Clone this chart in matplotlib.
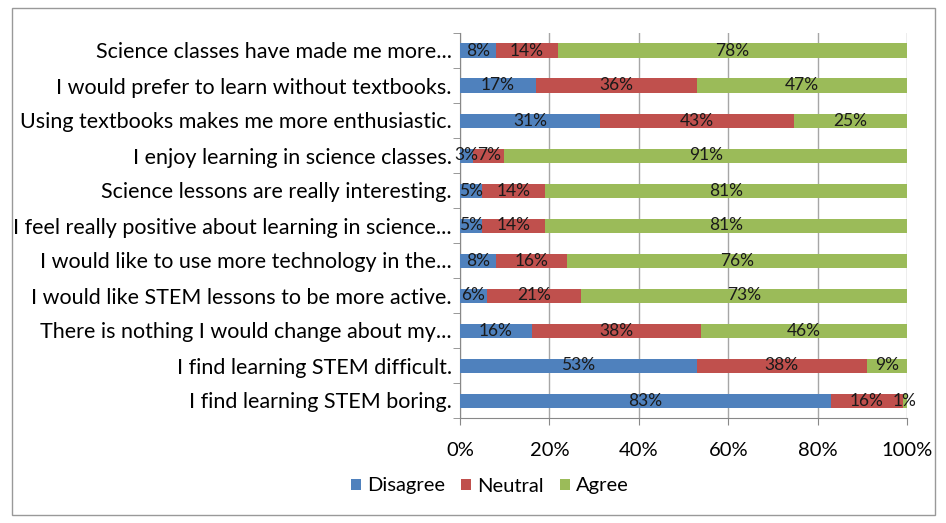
import matplotlib
matplotlib.use("Agg")
import matplotlib.pyplot as plt
from matplotlib.patches import Rectangle
import numpy as np

categories = [
    "Science classes have made me more...",
    "I would prefer to learn without textbooks.",
    "Using textbooks makes me more enthusiastic.",
    "I enjoy learning in science classes.",
    "Science lessons are really interesting.",
    "I feel really positive about learning in science...",
    "I would like to use more technology in the...",
    "I would like STEM lessons to be more active.",
    "There is nothing I would change about my...",
    "I find learning STEM difficult.",
    "I find learning STEM boring.",
]
disagree = [8, 17, 31, 3, 5, 5, 8, 6, 16, 53, 83]
neutral = [14, 36, 43, 7, 14, 14, 16, 21, 38, 38, 16]
agree = [78, 47, 25, 91, 81, 81, 76, 73, 46, 9, 1]
series_names = ["Disagree", "Neutral", "Agree"]
colors = ["#4F81BD", "#C0504D", "#9BBB59"]
xticks = [0, 0.2, 0.4, 0.6, 0.8, 1.0]
xticklabels = ["0%", "20%", "40%", "60%", "80%", "100%"]

plt.rcParams['font.family'] = ['Lato', 'DejaVu Sans']

fig = plt.figure(figsize=(9.46, 5.23), dpi=100)
ax = fig.add_axes([460/946, 1-418/523, 447/946, (418-33)/523])

data = np.array([disagree, neutral, agree], dtype=float)
fracs = data / data.sum(axis=0)
n = len(categories)
y = np.arange(n)[::-1]
left = np.zeros(n)
for i in range(3):
    ax.barh(y, fracs[i], left=left, height=0.4, color=colors[i], label=series_names[i], zorder=3)
    for j in range(n):
        cx = left[j] + fracs[i][j] / 2
        ax.text(cx, y[j], f"{int(data[i][j])}%", ha="center", va="center",
                fontsize=12.5, color="#1a1a1a", zorder=4)
    left += fracs[i]

ax.set_xlim(0, 1)
ax.set_ylim(-0.5, n - 0.5)
ax.set_xticks(xticks)
ax.set_xticklabels(xticklabels, fontsize=14.5)
ax.set_yticks(y)
ax.set_yticklabels(categories, fontsize=15.5)
ax.tick_params(axis='y', length=0, pad=6)
ax.tick_params(axis='x', length=5, color="#888888", pad=12, direction='out')
ax.set_yticks(np.arange(n + 1) - 0.5, minor=True)
ax.tick_params(axis='y', which='minor', length=5, color="#888888")
ax.grid(axis='x', color="#a6a6a6", linewidth=1, zorder=0)
for s in ["top", "right"]:
    ax.spines[s].set_visible(False)
for s in ["left", "bottom"]:
    ax.spines[s].set_color("#888888")

handles, labels = ax.get_legend_handles_labels()
fig.legend(handles, labels, loc="center", bbox_to_anchor=(490/946, 1-486/523), ncol=3,
           frameon=False, fontsize=14.5, handlelength=0.5, handleheight=0.5,
           handletextpad=0.3, columnspacing=0.8)

fig.patches.append(Rectangle((12/946, 1-515/523), (935-12)/946, (515-8)/523,
                             transform=fig.transFigure, fill=False,
                             edgecolor="#999999", linewidth=1))

fig.savefig("out.png", dpi=100)
